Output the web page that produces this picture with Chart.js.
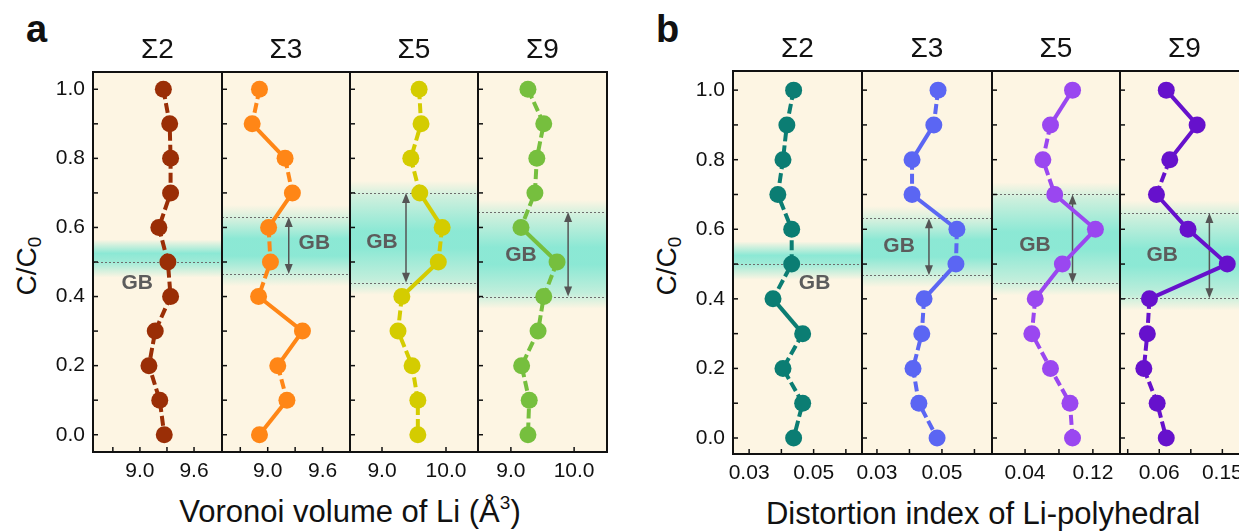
<!DOCTYPE html>
<html>
<head>
<meta charset="utf-8">
<script src="https://cdn.jsdelivr.net/npm/chart.js@4.4.0/dist/chart.umd.min.js"></script>
<style>
  html, body { margin: 0; padding: 0; background: #fff; overflow: hidden; }
  #wrap { position: relative; width: 1239px; height: 531px; overflow: hidden;
          font-family: "Liberation Sans", Arial, sans-serif; color: #111; }
  #wrap canvas { position: absolute; }
  .txt { position: absolute; white-space: nowrap; }
  .panel-tag { font-weight: bold; font-size: 38px; line-height: 38px; top: 10px; }
  .ylab { font-size: 28px; line-height: 30px; transform: translate(-50%, -50%) rotate(-90deg); }
  .ylab sub { font-size: 19px; line-height: 0; vertical-align: baseline; position: relative; top: 5px; }
  .xlab { font-size: 31px; line-height: 32px; text-align: center; top: 496px; }
  .xlab sup { font-size: 19px; line-height: 0; vertical-align: baseline; position: relative; top: -13px; }
</style>
</head>
<body>
<div id="wrap">
  <div class="txt panel-tag" style="left:26px;">a</div>
  <div class="txt panel-tag" style="left:656px;">b</div>
  <div class="txt ylab" style="left:27px; top:266px;">C/C<sub>0</sub></div>
  <div class="txt ylab" style="left:667px; top:266px;">C/C<sub>0</sub></div>
  <div class="txt xlab" style="left:93px; width:514px;">Voronoi volume of Li (Å<sup>3</sup>)</div>
  <div class="txt xlab" style="left:733px; width:500px; top:498px;">Distortion index of Li-polyhedral</div>
</div>
<script>
// C/C0 positions (y values, shared by every panel)
const cc0 = [1.0, 0.9, 0.8, 0.7, 0.6, 0.5, 0.4, 0.3, 0.2, 0.1, 0.0];
const yTickLabels = [0.0, 0.2, 0.4, 0.6, 0.8, 1.0];
const sigmaTitles = ['Σ2', 'Σ3', 'Σ5', 'Σ9'];

// a: Voronoi volume of Li (Å^3)
const voronoiS2 = [9.26, 9.33, 9.34, 9.34, 9.21, 9.31, 9.34, 9.17, 9.10, 9.22, 9.27];
const voronoiS3 = [8.91, 8.83, 9.19, 9.27, 9.01, 9.03, 8.90, 9.38, 9.11, 9.21, 8.91];
const voronoiS5 = [9.58, 9.61, 9.45, 9.59, 9.94, 9.88, 9.31, 9.25, 9.47, 9.56, 9.56];
const voronoiS9 = [9.27, 9.52, 9.41, 9.38, 9.16, 9.73, 9.52, 9.43, 9.17, 9.29, 9.27];
const voronoiTicks = [[9.0, 9.6], [9.0, 9.6], [9.0, 10.0], [9.0, 10.0]];
const voronoiMinor = [[8.7, 9.3], [8.7, 9.3], [], []];

// b: distortion index of Li-polyhedral
const distortS2 = [0.0438, 0.0417, 0.0405, 0.0389, 0.0432, 0.0432, 0.0374, 0.0466, 0.0405, 0.0466, 0.0438];
const distortS3 = [0.0488, 0.0475, 0.0408, 0.0408, 0.0546, 0.0543, 0.0445, 0.0438, 0.0411, 0.0429, 0.0485];
const distortS5 = [0.096, 0.070, 0.061, 0.075, 0.123, 0.084, 0.052, 0.048, 0.070, 0.093, 0.096];
const distortS9 = [0.070, 0.114, 0.075, 0.056, 0.101, 0.157, 0.046, 0.043, 0.038, 0.057, 0.070];
const distortTicks = [[0.03, 0.05], [0.03, 0.05], [0.04, 0.12], [0.06, 0.15]];
const distortMinor = [[0.04, 0.06], [0.04, 0.06], [0.08], [0.015, 0.105]];

// GB region boundaries (C/C0) per panel
const gbLinesA = [[0.5], [0.63, 0.465], [0.70, 0.44], [0.645, 0.40]];
const gbLinesB = [[0.5], [0.632, 0.468], [0.70, 0.445], [0.647, 0.402]];

const FONT = "'Liberation Sans', Arial, sans-serif";
const wrap = document.getElementById('wrap');

const deco = {
  id: 'deco',
  beforeDatasetsDraw(chart, args, o) {
    const { ctx, chartArea: a, scales: { x, y } } = chart;
    ctx.save();
    ctx.fillStyle = '#fdf5e3';
    ctx.fillRect(a.left, a.top, a.width, a.height);

    // soft cyan GB band
    let stops;
    if (o.lines.length === 1) {
      stops = [[0.565, 0], [0.525, 0.85], [0.50, 0.7], [0.455, 0]];
    } else {
      const [u, l] = o.lines;
      const m = (u + l) / 2;
      stops = [[u + 0.035, 0], [u - 0.01, 0.35], [m + 0.02, 0.85], [m - 0.03, 0.85], [l + 0.01, 0.45], [l - 0.035, 0]];
    }
    const y0 = y.getPixelForValue(stops[0][0]);
    const y1 = y.getPixelForValue(stops[stops.length - 1][0]);
    const g = ctx.createLinearGradient(0, y0, 0, y1);
    stops.forEach(([v, al]) => g.addColorStop((y.getPixelForValue(v) - y0) / (y1 - y0), `rgba(120,230,210,${al})`));
    ctx.fillStyle = g;
    ctx.fillRect(a.left, y0, a.width, y1 - y0);

    // dotted boundaries
    ctx.strokeStyle = '#6d6d6d';
    ctx.lineWidth = 1;
    ctx.setLineDash([2, 2]);
    o.lines.forEach(v => {
      const py = Math.round(y.getPixelForValue(v)) + 0.5;
      ctx.beginPath(); ctx.moveTo(a.left, py); ctx.lineTo(a.right, py); ctx.stroke();
    });
    ctx.setLineDash([]);

    // double arrow
    if (o.arrowX != null) {
      const ax = x.getPixelForValue(o.arrowX);
      const ya = y.getPixelForValue(o.lines[0]);
      const yb = y.getPixelForValue(o.lines[1]);
      ctx.strokeStyle = '#555'; ctx.fillStyle = '#555'; ctx.lineWidth = 1.5;
      ctx.beginPath(); ctx.moveTo(ax, ya + 8); ctx.lineTo(ax, yb - 8); ctx.stroke();
      ctx.beginPath(); ctx.moveTo(ax, ya); ctx.lineTo(ax - 4, ya + 10); ctx.lineTo(ax + 4, ya + 10); ctx.closePath(); ctx.fill();
      ctx.beginPath(); ctx.moveTo(ax, yb); ctx.lineTo(ax - 4, yb - 10); ctx.lineTo(ax + 4, yb - 10); ctx.closePath(); ctx.fill();
    }

    // GB label
    ctx.fillStyle = '#5c5c5c';
    ctx.font = `bold 21px ${FONT}`;
    ctx.textAlign = 'center';
    ctx.textBaseline = 'middle';
    ctx.fillText('GB', x.getPixelForValue(o.gb[0]), y.getPixelForValue(o.gb[1]));
    ctx.restore();
  },
  afterDatasetsDraw(chart, args, o) {
    const { ctx, chartArea: a, scales: { x, y } } = chart;
    ctx.save();
    ctx.strokeStyle = '#111';
    ctx.lineWidth = 1.5;
    cc0.forEach(v => {
      const py = y.getPixelForValue(v);
      ctx.beginPath(); ctx.moveTo(a.left, py); ctx.lineTo(a.left + 5, py); ctx.stroke();
    });
    o.xTicks.concat(o.xMinor).forEach(v => {
      const px = x.getPixelForValue(v);
      ctx.beginPath(); ctx.moveTo(px, a.bottom); ctx.lineTo(px, a.bottom - 5); ctx.stroke();
    });
    ctx.lineWidth = 2;
    ctx.strokeRect(a.left, a.top, a.width, a.height);
    ctx.restore();
  }
};

function makePanel(p) {
  const yAxisW = 72;
  const side = 34;
  const leftW = p.first ? yAxisW : side;
  const pw = p.right - p.left;
  const canvas = document.createElement('canvas');
  canvas.width = leftW + pw + side;
  canvas.height = (p.bottom + 40) - (p.top - 40);
  canvas.style.left = (p.left - leftW) + 'px';
  canvas.style.top = (p.top - 40) + 'px';
  wrap.appendChild(canvas);

  new Chart(canvas, {
    type: 'line',
    data: {
      datasets: [{
        data: p.values.map((v, i) => ({ x: v, y: cc0[i] })),
        borderColor: p.color,
        backgroundColor: p.color,
        borderWidth: 4,
        borderDash: [10, 4],
        segment: {
          borderDash: c => Math.hypot(c.p1.x - c.p0.x, c.p1.y - c.p0.y) > 41 ? [] : [10, 4]
        },
        pointRadius: 8.5,
        pointHoverRadius: 8.5,
        pointBorderWidth: 0,
        tension: 0,
        clip: false
      }]
    },
    options: {
      responsive: false,
      animation: false,
      devicePixelRatio: 1,
      events: [],
      layout: { padding: { left: p.first ? 0 : side, right: side, top: 0, bottom: 0 } },
      plugins: {
        legend: { display: false },
        tooltip: { enabled: false },
        title: {
          display: true, text: p.title, color: '#111', fullSize: false,
          font: { family: FONT, size: 28, weight: 'normal', lineHeight: '30px' },
          padding: { top: 3, bottom: 7 }
        },
        deco: { lines: p.lines, arrowX: p.arrowX, gb: p.gb, xTicks: p.xTicks, xMinor: p.xMinor }
      },
      scales: {
        x: {
          type: 'linear', min: p.xMin, max: p.xMax,
          grid: { display: false, drawTicks: false },
          border: { display: false },
          afterBuildTicks: s => { s.ticks = p.xTicks.map(v => ({ value: v })); },
          afterFit: s => { s.height = 40; },
          ticks: { autoSkip: false, maxRotation: 0, padding: 7, color: '#111',
                   font: { family: FONT, size: 21 }, callback: v => v.toFixed(p.dec) }
        },
        y: {
          type: 'linear', min: p.yMin, max: p.yMax, display: p.first,
          grid: { display: false, drawTicks: false },
          border: { display: false },
          afterBuildTicks: s => { s.ticks = yTickLabels.map(v => ({ value: v })); },
          afterFit: s => { s.width = p.first ? yAxisW : 0; },
          ticks: { autoSkip: false, padding: 8, color: '#111',
                   font: { family: FONT, size: 21 }, callback: v => v.toFixed(1) }
        }
      }
    },
    plugins: [deco]
  });
}

// panel a
const aEdges = [93, 222, 350, 478, 607];
const aValues = [voronoiS2, voronoiS3, voronoiS5, voronoiS9];
const aColors = ['#9a2e06', '#ff8616', '#d4cc00', '#76bf3e'];
const aRanges = [[8.48, 9.91], [8.5, 9.9], [8.5, 10.5], [8.48, 10.52]];
const aArrows = [null, 9.23, 9.375, 9.905];
const aGB = [[8.97, 0.44], [9.51, 0.553], [9.0, 0.556], [9.16, 0.52]];
aValues.forEach((vals, i) => makePanel({
  first: i === 0, left: aEdges[i], right: aEdges[i + 1], top: 72, bottom: 452,
  yMin: -0.05, yMax: 1.05, xMin: aRanges[i][0], xMax: aRanges[i][1],
  values: vals, color: aColors[i], title: sigmaTitles[i], dec: 1,
  xTicks: voronoiTicks[i], xMinor: voronoiMinor[i],
  lines: gbLinesA[i], arrowX: aArrows[i], gb: aGB[i]
}));

// panel b
const bEdges = [733, 862, 992, 1120, 1249];
const bValues = [distortS2, distortS3, distortS5, distortS9];
const bColors = ['#0b7d73', '#5b66f3', '#9a47f0', '#6611cc'];
const bRanges = [[0.025, 0.065], [0.0254, 0.0654], [0.001, 0.152], [0.004, 0.188]];
const bArrows = [null, 0.046, 0.096, 0.1315];
const bGB = [[0.0503, 0.445], [0.0368, 0.552], [0.0516, 0.555], [0.0643, 0.526]];
bValues.forEach((vals, i) => makePanel({
  first: i === 0, left: bEdges[i], right: bEdges[i + 1], top: 71, bottom: 454,
  yMin: -0.046, yMax: 1.055, xMin: bRanges[i][0], xMax: bRanges[i][1],
  values: vals, color: bColors[i], title: sigmaTitles[i], dec: 2,
  xTicks: distortTicks[i], xMinor: distortMinor[i],
  lines: gbLinesB[i], arrowX: bArrows[i], gb: bGB[i]
}));
</script>
</body>
</html>
